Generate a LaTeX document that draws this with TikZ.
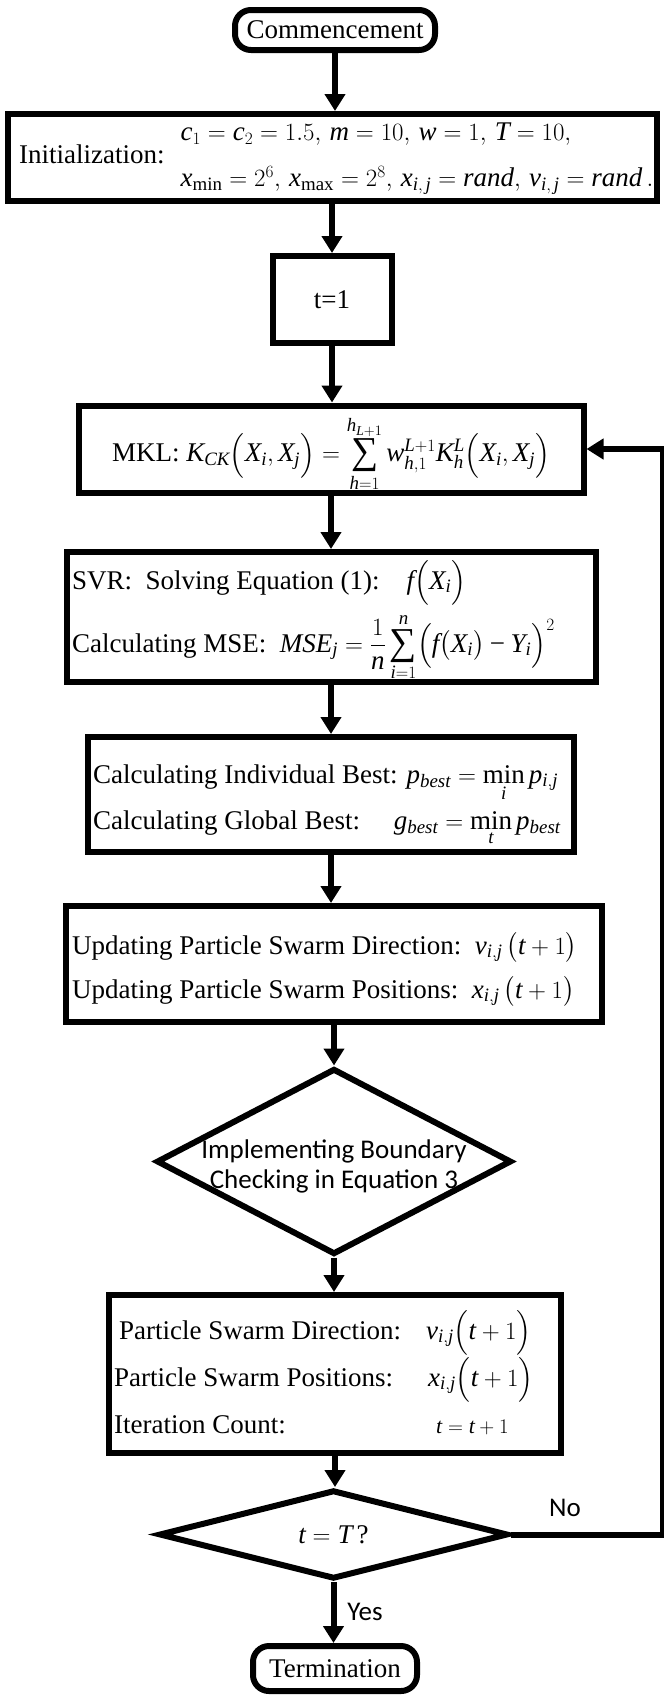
\documentclass[tikz,border=0pt]{standalone}
\usepackage{exscale}
\usepackage{fontspec}
\setmainfont{Liberation Serif}
\newfontfamily\calibrifont{Carlito}
% italic Latin letters in formulas taken from the text serif
\DeclareSymbolFont{tletters}{TU}{\rmdefault}{m}{it}
\makeatletter
\count@=`a
\loop
  \mathcode\count@=\numexpr "7000+\symtletters*"100+\count@\relax
  \advance\count@ 1
\ifnum\count@<\numexpr`z+1\relax\repeat
\count@=`A
\loop
  \mathcode\count@=\numexpr "7000+\symtletters*"100+\count@\relax
  \advance\count@ 1
\ifnum\count@<\numexpr`Z+1\relax\repeat
\makeatother
% relation and binary signs from the text serif as well
\Umathcode`= = 3 \symoperators `=
\Umathcode`+ = 2 \symoperators `+
\Umathcode`- = 2 \symoperators "2212
% large summation sign drawn with the serif's own glyph
\newcommand\tsum{\mathop{\vcenter{\hbox{\fontsize{38}{38}\selectfont\char"2211}}}\limits}
\usetikzlibrary{arrows.meta,shapes.geometric}

\begin{document}
\begin{tikzpicture}[x=1pt,y=-1pt,
  every node/.style={font=\fontsize{27}{32}\selectfont},
  box/.style={draw, line width=6pt, inner sep=0pt, fill=white},
  term/.style={box, rounded corners=16pt},
  decide/.style={draw, diamond, line width=6pt, inner sep=0pt, line join=miter},
  flow/.style={line width=6pt, line join=miter, -{Triangle[length=17pt,width=20pt]}},
  tag/.style={font=\calibrifont\fontsize{27}{30}\selectfont},
  row/.style={anchor=base west, inner sep=0pt},
]
\useasboundingbox (0,0) rectangle (664,1695);

% terminals and process boxes
\node[term, minimum width=200pt, minimum height=40pt] (start) at (335,30) {Commencement};

\node[box, minimum width=649pt, minimum height=87pt] (init) at (332,157.5) {};
\node[anchor=west, inner sep=0pt] (initT) at (19,157.5)
  {Initialization:\hspace{16pt}$\begin{array}{@{}l@{}}
     c_1=c_2=1.5,\, m=10,\, w=1,\, T=10,\\[14pt]
     x_{\min}=2^6,\, x_{\max}=2^8,\, x_{i,\,j}=rand,\, v_{i,\,j}=rand\,.
   \end{array}$};

\node[box, minimum width=119pt, minimum height=87pt] (t1) at (332,299.5) {t=1};

\node[box, minimum width=505pt, minimum height=87pt] (mkl) at (331,449) {};
\node[inner sep=0pt] (mklT) at (331,454)
  {MKL: $\displaystyle K_{CK}\Bigl(X_i,X_j\Bigr)=\tsum_{h=1}^{h_{L+1}}w_{h,1}^{L+1}K_h^{L}\Bigl(X_i,X_j\Bigr)$};

\node[box, minimum width=529pt, minimum height=130pt] (svr) at (331,617) {};
\node[row] (svrA) at (72,589) {SVR:\enspace Solving Equation (1):\quad $f\Bigl(X_i\Bigr)$};
\node[row] (svrB) at (72,652)
  {Calculating MSE:\enspace $\displaystyle MSE_j=\frac{1}{n}\tsum_{i=1}^{n}\Bigl(f\bigl(X_i\bigr)-Y_i\Bigr)^2$};

\node[box, minimum width=486pt, minimum height=115pt] (best) at (331,794.5) {};
\node[row] (bestA) at (93,783) {Calculating Individual Best: $p_{best}=\min\limits_{i} p_{i,j}$};
\node[row] (bestB) at (93,829) {Calculating Global Best:\quad\ $g_{best}=\min\limits_{t} p_{best}$};

\node[box, minimum width=536pt, minimum height=116pt] (upd) at (334,964) {};
\node[row] (updA) at (72,954) {Updating Particle Swarm Direction:\, $v_{i,j}\,\bigl(t+1\bigr)$};
\node[row] (updB) at (72,998) {Updating Particle Swarm Positions:\, $x_{i,j}\,\bigl(t+1\bigr)$};

\node[decide, minimum width=355pt, minimum height=186pt,
      label={[tag, align=center, yshift=-5pt]center:Implementing Boundary\\Checking in Equation 3}] (check) at (334,1161.5) {};

\node[box, minimum width=452pt, minimum height=158pt] (part) at (335,1374) {};
\node[row] (partA) at (119,1339) {Particle Swarm Direction:};
\node[row] (partAv) at (426,1339) {$v_{i,j}\Bigl(t+1\Bigr)$};
\node[row] (partB) at (114,1386) {Particle Swarm Positions:};
\node[row] (partBv) at (428,1386) {$x_{i,j}\Bigl(t+1\Bigr)$};
\node[row] (partC) at (114,1433) {Iteration Count:};
\node[row, font=\fontsize{22}{26}\selectfont] (partCv) at (436,1433) {$t=t+1$};

\node[decide, minimum width=349pt, minimum height=89pt,
      label={center:$t=T\,$?}] (loop) at (333.5,1534.5) {};

\node[term, minimum width=164pt, minimum height=45pt] (stop) at (335,1668.5) {Termination};

% branch labels
\node[tag] (no) at (565,1508) {No};
\node[tag] (yes) at (365,1612) {Yes};

% main flow
\draw[flow] (start.south) -- (start.south |- init.north);
\draw[flow] (init.south) -- (init.south |- t1.north);
\draw[flow] (t1.south) -- (t1.south |- mkl.north);
\draw[flow] (mkl.south) -- (mkl.south |- svr.north);
\draw[flow] (svr.south) -- (svr.south |- best.north);
\draw[flow] (best.south) -- (best.south |- upd.north);
\draw[flow] (upd.south) -- (upd.south |- check.north);
\draw[flow] (check.south) -- (check.south |- part.north);
\draw[flow] (part.south) -- (part.south |- loop.north);
\draw[flow] (loop.south) -- (loop.south |- stop.north);

% loop back to the kernel step
\coordinate (turnlow) at (663,1534.5);
\coordinate (turnhigh) at (663,449);
\draw[flow] (loop.east) -- (turnlow) -- (turnhigh) -- (mkl.east);
\end{tikzpicture}
\end{document}
